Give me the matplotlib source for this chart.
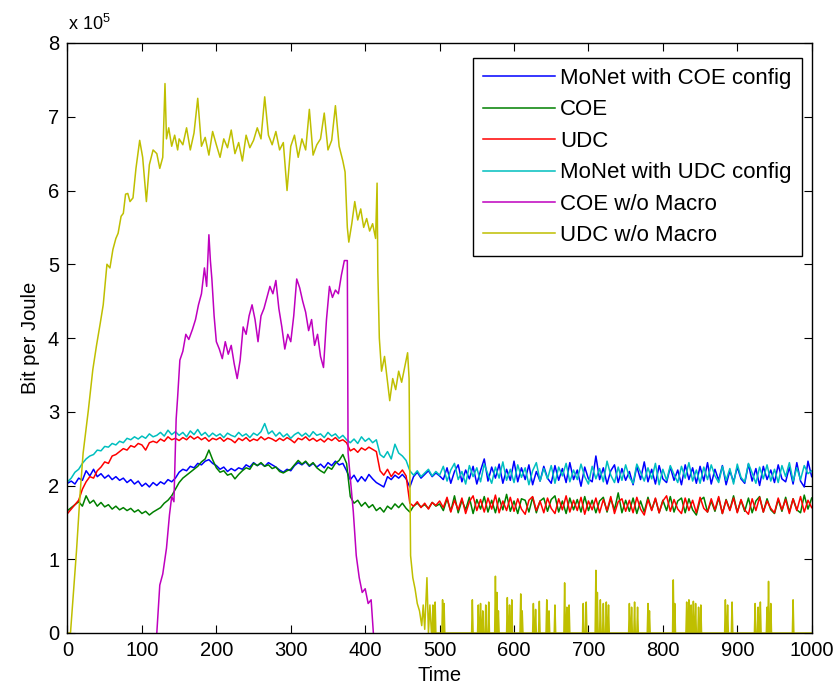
import numpy as np
import matplotlib
matplotlib.use("Agg")
import matplotlib.pyplot as plt

plt.rcParams['font.family'] = ['Liberation Sans', 'DejaVu Sans']
plt.rcParams['mathtext.fontset'] = 'custom'
plt.rcParams['mathtext.rm'] = 'Liberation Sans'
plt.rcParams['mathtext.it'] = 'Liberation Sans'

# ---------------- data (values in units of 1e5 bit per joule) ----------------
labels = ["MoNet with COE config", "COE", "UDC", "MoNet with UDC config",
          "COE w/o Macro", "UDC w/o Macro"]
colors = ["#0000ff", "#008000", "#ff0000", "#00bfbf", "#bf00bf", "#bfbf00"]

time_main = np.arange(0, 1001, 5)

cyan_head = [2.05, 2.10, 2.18, 2.22, 2.30, 2.36, 2.40, 2.42, 2.48, 2.47,
             2.53, 2.52, 2.57, 2.55, 2.60, 2.58, 2.64, 2.62, 2.66, 2.63,
             2.67, 2.64, 2.70, 2.66, 2.68, 2.72, 2.67, 2.75, 2.69, 2.73,
             2.68, 2.72, 2.66, 2.74, 2.69, 2.76, 2.68, 2.72, 2.66, 2.71,
             2.67, 2.70, 2.65, 2.71, 2.68, 2.66, 2.72, 2.67, 2.70, 2.65,
             2.71, 2.68, 2.73, 2.84, 2.70, 2.74, 2.67, 2.72, 2.66, 2.70,
             2.64, 2.69, 2.72, 2.67, 2.71, 2.66, 2.73, 2.68, 2.70, 2.65,
             2.72, 2.67, 2.70, 2.64, 2.68, 2.62, 2.58, 2.63, 2.57, 2.66,
             2.60, 2.64, 2.58, 2.62, 2.42, 2.38, 2.46, 2.36, 2.56, 2.44,
             2.40, 2.34, 2.20, 2.14, 2.20, 2.12, 2.17, 2.22, 2.13, 2.19,
             2.14]
cyan_tail = [2.26, 2.06, 2.21, 2.30, 2.08, 2.19, 2.02, 2.27, 2.12, 2.24,
             2.05, 2.29, 2.15, 2.03, 2.25, 2.10, 2.32, 2.07, 2.22, 2.04,
             2.28, 2.11, 2.24, 2.01, 2.20, 2.31, 2.06, 2.23, 2.09, 2.27,
             2.03, 2.25, 2.13, 2.30, 2.05, 2.21, 2.08, 2.29, 2.12, 2.02,
             2.26, 2.09, 2.23, 2.05, 2.33, 2.14, 2.04, 2.25, 2.07, 2.28,
             2.11, 2.03, 2.29, 2.18, 2.06, 2.24, 2.09, 2.30, 2.01, 2.22,
             2.07, 2.27, 2.15, 2.04, 2.26, 2.10, 2.31, 2.06, 2.21, 2.03,
             2.25, 2.08, 2.28, 2.13, 2.04, 2.26, 2.07, 2.23, 2.02, 2.29,
             2.11, 2.05, 2.30, 2.17, 2.03, 2.25, 2.09, 2.28, 2.06, 2.22,
             2.04, 2.27, 2.12, 2.31, 2.06, 2.24, 2.08, 2.27, 2.16, 2.20]

blue_head = [2.03, 2.06, 2.02, 2.10, 2.07, 2.20, 2.13, 2.22, 2.12, 2.16,
             2.10, 2.14, 2.08, 2.12, 2.07, 2.10, 2.04, 2.08, 2.02, 2.06,
             1.99, 2.03, 1.98, 2.04, 2.00, 2.05, 2.02, 2.08, 2.05, 2.10,
             2.18, 2.22, 2.20, 2.26, 2.24, 2.30, 2.28, 2.33, 2.35, 2.30,
             2.27, 2.22, 2.25, 2.19, 2.23, 2.20, 2.24, 2.22, 2.28, 2.25,
             2.31, 2.27, 2.30, 2.26, 2.31, 2.28, 2.25, 2.21, 2.18, 2.22,
             2.20, 2.27, 2.31, 2.28, 2.32, 2.26, 2.30, 2.25, 2.29, 2.24,
             2.31, 2.27, 2.33, 2.28, 2.30, 2.20, 2.08, 2.14, 2.05, 2.12,
             2.06, 2.15, 2.09, 2.04, 2.01, 1.98, 2.12, 2.08, 2.14, 2.10,
             2.15, 2.09, 1.98, 2.12, 2.18, 2.10, 2.15, 2.20, 2.12, 2.17,
             2.13]
blue_tail = [2.08, 2.24, 2.03, 2.19, 2.28, 2.05, 2.21, 2.09, 2.26, 2.02,
             2.20, 2.36, 2.06, 2.25, 2.10, 2.29, 2.03, 2.22, 2.07, 2.33,
             2.05, 2.24, 2.08, 2.28, 2.01, 2.19, 2.06, 2.26, 2.10, 2.03,
             2.27, 2.07, 2.23, 2.04, 2.31, 2.08, 2.21, 1.99, 2.25, 2.09,
             2.05, 2.40, 2.08, 2.24, 2.02, 2.20, 2.28, 2.04, 2.23, 2.07,
             2.19, 2.01, 2.26, 2.08, 2.32, 2.05, 2.22, 2.02, 2.27, 2.09,
             2.04, 2.25, 2.07, 2.21, 2.01, 2.28, 2.08, 2.24, 2.03, 2.26,
             2.06, 2.31, 2.02, 2.22, 2.07, 2.27, 2.01, 2.20, 2.05, 2.25,
             2.09, 2.03, 2.29, 2.06, 2.23, 2.00, 2.26, 2.08, 2.21, 2.04,
             2.28, 2.09, 2.05, 2.25, 2.02, 2.31, 2.06, 1.98, 2.33, 2.12]

red_head = [1.62, 1.68, 1.74, 1.80, 1.95, 2.05, 2.12, 2.10, 2.20, 2.25,
            2.32, 2.30, 2.40, 2.42, 2.46, 2.50, 2.48, 2.54, 2.52, 2.57,
            2.55, 2.48, 2.58, 2.60, 2.58, 2.63, 2.60, 2.66, 2.62, 2.64,
            2.61, 2.65, 2.62, 2.67, 2.63, 2.66, 2.62, 2.65, 2.60, 2.64,
            2.62, 2.65, 2.60, 2.64, 2.62, 2.58, 2.64, 2.61, 2.65, 2.60,
            2.63, 2.61, 2.66, 2.62, 2.65, 2.63, 2.60, 2.64, 2.61, 2.65,
            2.62, 2.58, 2.64, 2.62, 2.66, 2.61, 2.64, 2.60, 2.63, 2.59,
            2.64, 2.61, 2.65, 2.60, 2.62, 2.58, 2.47, 2.50, 2.45, 2.51,
            2.48, 2.52, 2.49, 2.46, 2.20, 2.14, 2.22, 2.12, 2.19, 2.15,
            2.21, 2.13, 1.76, 1.72, 1.78, 1.70, 1.76, 1.68, 1.77, 1.73,
            1.79]
red_tail = [1.70, 1.84, 1.64, 1.80, 1.67, 1.83, 1.62, 1.78, 1.86, 1.66,
            1.81, 1.64, 1.83, 1.68, 1.87, 1.63, 1.79, 1.66, 1.84, 1.65,
            1.82, 1.68, 1.61, 1.80, 1.85, 1.66, 1.79, 1.63, 1.83, 1.69,
            1.62, 1.82, 1.67, 1.86, 1.64, 1.80, 1.66, 1.84, 1.61, 1.79,
            1.67, 1.83, 1.63, 1.81, 1.66, 1.85, 1.62, 1.78, 1.82, 1.65,
            1.80, 1.63, 1.84, 1.68, 1.60, 1.81, 1.66, 1.83, 1.63, 1.79,
            1.86, 1.65, 1.81, 1.68, 1.62, 1.83, 1.66, 1.80, 1.63, 1.84,
            1.69, 1.64, 1.82, 1.67, 1.85, 1.62, 1.80, 1.66, 1.83, 1.63,
            1.81, 1.67, 1.61, 1.82, 1.66, 1.84, 1.64, 1.79, 1.69, 1.63,
            1.83, 1.67, 1.81, 1.62, 1.82, 1.66, 1.85, 1.64, 1.80, 1.70]

green_head = [1.66, 1.70, 1.74, 1.78, 1.72, 1.86, 1.76, 1.80, 1.72, 1.77,
              1.71, 1.74, 1.68, 1.72, 1.67, 1.70, 1.66, 1.69, 1.64, 1.67,
              1.62, 1.65, 1.60, 1.64, 1.67, 1.70, 1.76, 1.80, 1.86, 1.95,
              2.04, 2.10, 2.14, 2.18, 2.22, 2.26, 2.32, 2.36, 2.48, 2.35,
              2.24, 2.18, 2.20, 2.14, 2.16, 2.09, 2.15, 2.20, 2.24, 2.22,
              2.30, 2.27, 2.31, 2.26, 2.28, 2.23, 2.25, 2.19, 2.17, 2.20,
              2.22, 2.28, 2.34, 2.29, 2.33, 2.27, 2.31, 2.24, 2.20, 2.17,
              2.25, 2.22, 2.30, 2.34, 2.42, 2.30, 1.85, 1.76, 1.80, 1.72,
              1.77, 1.70, 1.74, 1.66, 1.70, 1.64, 1.72, 1.68, 1.75, 1.70,
              1.76, 1.69, 1.64, 1.72, 1.76, 1.71, 1.74, 1.69, 1.77, 1.72,
              1.75]
green_tail = [1.66, 1.82, 1.65, 1.86, 1.63, 1.80, 1.67, 1.84, 1.62, 1.81,
              1.68, 1.85, 1.64, 1.80, 1.63, 1.83, 1.67, 1.88, 1.65, 1.79,
              1.62, 1.82, 1.80, 1.64, 1.84, 1.63, 1.79, 1.83, 1.65, 1.81,
              1.86, 1.64, 1.79, 1.62, 1.83, 1.67, 1.81, 1.64, 1.85, 1.66,
              1.80, 1.63, 1.79, 1.84, 1.64, 1.82, 1.67, 1.90, 1.63, 1.80,
              1.65, 1.83, 1.62, 1.79, 1.64, 1.84, 1.67, 1.82, 1.63, 1.80,
              1.66, 1.85, 1.64, 1.79, 1.83, 1.63, 1.82, 1.67, 1.60, 1.80,
              1.84, 1.64, 1.79, 1.65, 1.83, 1.62, 1.81, 1.67, 1.86, 1.64,
              1.80, 1.65, 1.83, 1.63, 1.79, 1.85, 1.64, 1.82, 1.67, 1.62,
              1.81, 1.65, 1.84, 1.64, 1.82, 1.67, 1.63, 1.87, 1.68, 1.83]

mag_t = [120, 124, 128, 133, 137, 140, 143, 146, 148, 151,
         155, 159, 163, 168, 172, 176, 180, 184, 187, 190,
         192, 194, 197, 200, 204, 208, 212, 216, 220, 224,
         228, 232, 236, 240, 244, 248, 252, 256, 260, 264,
         268, 272, 276, 280, 284, 288, 292, 296, 300, 304,
         308, 312, 316, 320, 324, 328, 332, 336, 340, 344,
         348, 352, 356, 360, 364, 368, 372, 376, 377, 380,
         384, 388, 392, 396, 400, 404, 408, 411]
mag_v = [0.0, 0.65, 0.80, 1.15, 1.60, 1.85, 1.78, 2.90, 3.20, 3.70,
         3.82, 4.05, 3.98, 4.12, 4.25, 4.45, 4.60, 4.95, 4.70, 5.40,
         5.05, 4.80, 4.30, 3.95, 3.85, 3.72, 3.95, 3.78, 3.90, 3.65,
         3.45, 3.70, 4.15, 4.05, 4.30, 4.45, 4.25, 3.95, 4.30, 4.40,
         4.55, 4.70, 4.60, 4.78, 4.40, 4.15, 3.85, 4.05, 3.95, 4.30,
         4.80, 4.68, 4.50, 4.35, 4.10, 4.25, 3.90, 4.05, 3.75, 3.60,
         4.25, 4.70, 4.55, 4.65, 4.60, 4.85, 5.05, 5.05, 2.45, 2.10,
         1.65, 1.05, 0.75, 0.55, 0.60, 0.40, 0.45, 0.0]

yel_t = [0, 4, 8, 12, 17, 21, 28, 34, 39, 44,
         48, 53, 57, 61, 65, 68, 72, 75, 78, 81,
         84, 88, 92, 97, 101, 104, 106, 110, 115, 120,
         124, 128, 131, 133, 136, 140, 144, 148, 150, 155,
         160, 165, 170, 175, 180, 185, 190, 195, 200, 205,
         210, 215, 220, 225, 230, 235, 240, 245, 250, 255,
         260, 265, 270, 275, 280, 285, 290, 295, 300, 305,
         310, 315, 320, 325, 330, 335, 340, 345, 350, 355,
         360, 365, 370, 373, 376, 378, 382, 386, 390, 394,
         398, 402, 406, 410, 414, 416, 417, 419, 422, 426,
         430, 433, 437, 441, 445, 449, 453, 457, 459, 461,
         464, 467, 470, 473, 476, 478, 480, 483, 485, 487,
         489]
yel_v = [0.0, 0.0, 0.54, 1.10, 1.90, 2.44, 3.02, 3.57, 3.90, 4.20,
         4.45, 5.00, 4.95, 5.20, 5.35, 5.42, 5.65, 5.69, 5.95, 5.96,
         5.85, 5.90, 6.30, 6.68, 6.45, 6.10, 5.85, 6.35, 6.55, 6.50,
         6.30, 6.45, 7.45, 6.70, 6.85, 6.60, 6.75, 6.55, 6.70, 6.62,
         6.85, 6.55, 6.78, 7.25, 6.60, 6.72, 6.48, 6.80, 6.62, 6.45,
         6.70, 6.58, 6.82, 6.50, 6.65, 6.40, 6.75, 6.58, 6.68, 6.85,
         6.70, 7.27, 6.75, 6.62, 6.80, 6.55, 6.65, 6.00, 6.60, 6.75,
         6.45, 6.70, 6.55, 7.10, 6.48, 6.62, 6.70, 7.05, 6.55, 6.68,
         7.15, 6.60, 6.40, 6.25, 5.50, 5.30, 5.55, 5.85, 5.60, 5.75,
         5.50, 5.62, 5.45, 5.55, 5.35, 6.10, 4.90, 4.00, 3.55, 3.75,
         3.40, 3.15, 3.45, 3.30, 3.55, 3.40, 3.60, 3.80, 3.45, 1.05,
         0.75, 0.60, 0.40, 0.30, 0.10, 0.38, 0.05, 0.75, 0.0, 0.38,
         0.0]

# sparse spikes of "UDC w/o Macro" after t=490 (zero elsewhere)
yel_spike_t = [491, 494, 504, 506, 544, 552, 555, 558, 562, 566,
               575, 577, 579, 591, 594, 597, 609, 611, 626, 629,
               634, 644, 647, 655, 668, 671, 674, 693, 697, 710,
               712, 716, 720, 724, 727, 755, 758, 762, 766, 780,
               782, 814, 816, 832, 835, 838, 841, 844, 848, 851,
               884, 887, 893, 924, 928, 931, 940, 942, 945, 975]
yel_spike_v = [0.38, 0.42, 0.45, 0.40, 0.45, 0.38, 0.40, 0.30, 0.38, 0.42,
               0.77, 0.55, 0.30, 0.48, 0.38, 0.45, 0.53, 0.30, 0.40, 0.32,
               0.43, 0.45, 0.30, 0.38, 0.68, 0.35, 0.38, 0.40, 0.42, 0.85,
               0.55, 0.45, 0.40, 0.42, 0.38, 0.40, 0.35, 0.42, 0.35, 0.40,
               0.30, 0.72, 0.40, 0.42, 0.45, 0.38, 0.43, 0.40, 0.35, 0.38,
               0.45, 0.38, 0.42, 0.40, 0.35, 0.42, 0.35, 0.70, 0.40, 0.45]

# ---------------- assemble series ----------------
blue = np.array(blue_head + blue_tail)
green = np.array(green_head + green_tail)
red = np.array(red_head + red_tail)
cyan = np.array(cyan_head + cyan_tail)

tail_t = np.arange(490, 1001)
tail_v = np.zeros(len(tail_t))
tail_v[np.array(yel_spike_t) - 490] = yel_spike_v
yel_all_t = np.concatenate([np.array(yel_t), tail_t])
yel_all_v = np.concatenate([np.array(yel_v), tail_v])

# ---------------- figure ----------------
W, H = 837, 694
fig = plt.figure(figsize=(W / 100, H / 100), dpi=100)
ax = fig.add_axes([67.5 / W, 1 - 633 / H, (811.7 - 67.5) / W, (633 - 43) / H])

lw = 1.1
ax.plot(time_main, blue, color=colors[0], lw=lw, label=labels[0])
ax.plot(time_main, green, color=colors[1], lw=lw, label=labels[1])
ax.plot(time_main, red, color=colors[2], lw=lw, label=labels[2])
ax.plot(time_main, cyan, color=colors[3], lw=lw, label=labels[3])
ax.plot(mag_t, mag_v, color=colors[4], lw=lw, label=labels[4])
ax.plot(yel_all_t, yel_all_v, color=colors[5], lw=lw, label=labels[5])

ax.set_xlim(0, 1000)
ax.set_ylim(0, 8)
ax.set_xticks(np.arange(0, 1001, 100))
ax.set_yticks(np.arange(0, 9, 1))
ax.tick_params(direction='in', top=True, right=True, length=6, width=0.8,
               labelsize=14.5, pad=6, colors='black')
for s in ax.spines.values():
    s.set_linewidth(1.0)
    s.set_color('black')

ax.set_xlabel("Time", fontsize=14.5, labelpad=4)
ax.set_ylabel("Bit per Joule", fontsize=14.5, labelpad=6)

fig.text(68 / W, 1 - 34 / H, r'x 10$^{5}$', fontsize=13, ha='left', va='bottom')

leg = ax.legend(loc='upper right', bbox_to_anchor=((801.7 - 67.5) / 744.2, 1 - (58 - 43) / 590),
                borderaxespad=0, fontsize=16, frameon=True, fancybox=False,
                handlelength=3.25, handletextpad=0.22, labelspacing=0.47,
                borderpad=0.45)
leg.get_frame().set_edgecolor('black')
leg.get_frame().set_linewidth(1.0)
leg.get_frame().set_alpha(1)

fig.savefig("out.png", dpi=100, facecolor='white')
